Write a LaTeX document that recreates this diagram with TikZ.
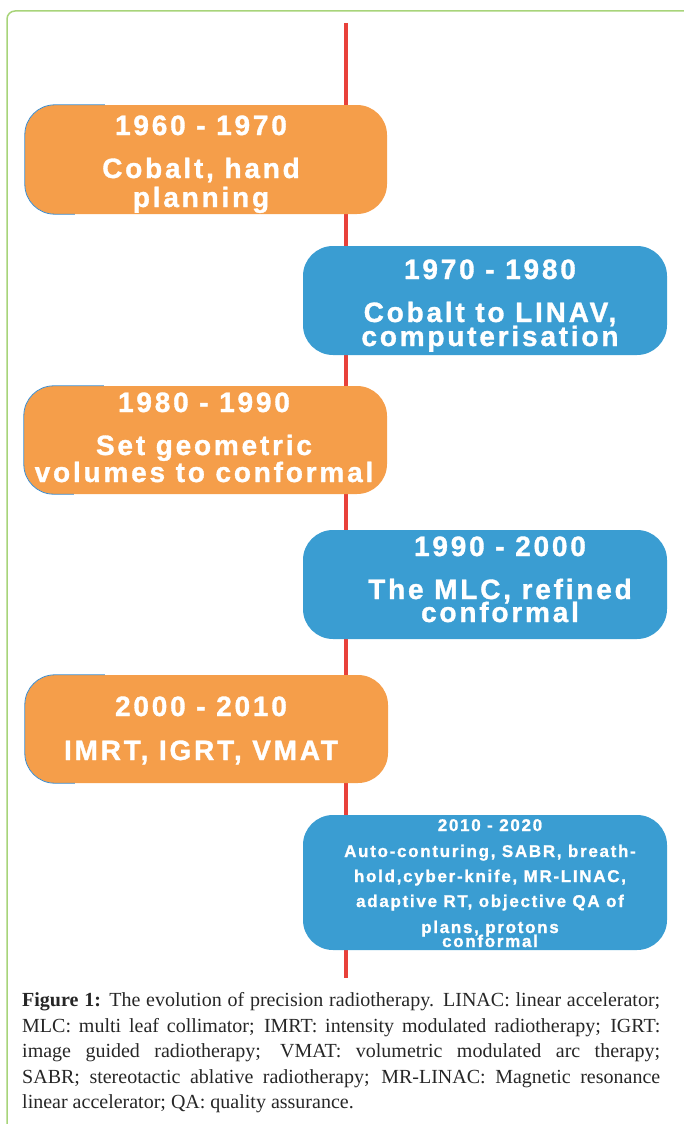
\documentclass[tikz,border=0pt]{standalone}
\usepackage{fontspec}
\setmainfont{Liberation Serif}
\newfontfamily\boxfont[LetterSpace=10,FakeBold=1.2]{Liberation Sans Bold}
\definecolor{orgfill}{HTML}{F59E4A}
\definecolor{blufill}{HTML}{3A9DD2}
\definecolor{redline}{HTML}{E8413A}
\definecolor{frame}{HTML}{A8D47A}
\definecolor{edgeblue}{HTML}{3A8ACB}
\tikzset{
  obox/.style={fill=orgfill, rounded corners=30pt, inner sep=0pt},
  bbox/.style={fill=blufill, rounded corners=30pt, inner sep=0pt},
  btxt/.style={text=white, font=\boxfont\fontsize{28}{30}\selectfont, anchor=base, inner sep=0pt},
  stxt/.style={text=white, font=\boxfont\fontsize{17}{19}\selectfont, anchor=base, inner sep=0pt},
  captxt/.style={text=black!85, font=\fontsize{20}{22}\selectfont, anchor=base west, inner sep=0pt},
  blueedge/.style={edgeblue, line width=0.8pt},
}
\newcommand{\capline}[1]{\makebox[638pt][s]{#1}}
\begin{document}
\begin{tikzpicture}[x=1pt,y=-1pt]
\useasboundingbox (0,0) rectangle (683,1124);
% frame
\draw[frame, line width=1.5pt, rounded corners=8pt] (7,1130) -- (7,11) -- (690,11);
% timeline
\coordinate (ltop) at (346,23);
\coordinate (lbot) at (346,978);
\draw[redline, line width=4pt] (ltop) -- (lbot);
% boxes
\node[obox, minimum width=362pt, minimum height=109pt] (b1) at (206,159.5) {};
\node[bbox, minimum width=364pt, minimum height=109pt] (b2) at (485,300.5) {};
\node[obox, minimum width=363pt, minimum height=108pt] (b3) at (205.5,440) {};
\node[bbox, minimum width=364pt, minimum height=109pt] (b4) at (485,584.5) {};
\node[obox, minimum width=363pt, minimum height=108pt] (b5) at (206.5,729) {};
\node[bbox, minimum width=364pt, minimum height=135pt] (b6) at (485,882.5) {};
% thin blue edge on the left of the orange boxes
\foreach \b in {b1,b3,b5}{
  \draw[blueedge] ([xshift=80pt]\b.north west) -- ([xshift=30pt]\b.north west)
    .. controls ([xshift=13.4pt]\b.north west) and ([yshift=-13.4pt]\b.north west) .. ([yshift=-30pt]\b.north west)
    -- ([yshift=30pt]\b.south west)
    .. controls ([yshift=13.4pt]\b.south west) and ([xshift=13.4pt]\b.south west) .. ([xshift=30pt]\b.south west)
    -- ([xshift=50pt]\b.south west);
}
% texts
\node[btxt] (t1a) at (201,135) {1960 - 1970};
\node[btxt] (t1b) at (201,178) {Cobalt, hand};
\node[btxt] (t1c) at (201,207) {planning};
\node[btxt] (t2a) at (490,279) {1970 - 1980};
\node[btxt] (t2b) at (490,322) {Cobalt to LINAV,};
\node[btxt] (t2c) at (490,346) {computerisation};
\node[btxt] (t3a) at (204,412) {1980 - 1990};
\node[btxt] (t3b) at (204,455) {Set geometric};
\node[btxt] (t3c) at (204,482) {volumes to conformal};
\node[btxt] (t4a) at (500,556) {1990 - 2000};
\node[btxt] (t4b) at (500,599) {The MLC, refined};
\node[btxt] (t4c) at (500,622) {conformal};
\node[btxt] (t5a) at (201,716) {2000 - 2010};
\node[btxt] (t5b) at (201,760) {IMRT, IGRT, VMAT};
\node[stxt] (t6a) at (490,831) {2010 - 2020};
\node[stxt] (t6b) at (490,857) {Auto-conturing, SABR, breath-};
\node[stxt] (t6c) at (490,882) {hold,cyber-knife, MR-LINAC,};
\node[stxt] (t6d) at (490,907) {adaptive RT, objective QA of};
\node[stxt] (t6e) at (490,933) {plans, protons};
\node[stxt] (t6f) at (490,947) {conformal};
% caption
\node[captxt] (c1) at (22,1006) {\capline{\textbf{Figure 1:} The evolution of precision radiotherapy. LINAC: linear accelerator;}};
\node[captxt] (c2) at (22,1032) {\capline{MLC: multi leaf collimator; IMRT: intensity modulated radiotherapy; IGRT:}};
\node[captxt] (c3) at (22,1057) {\capline{image guided radiotherapy; VMAT: volumetric modulated arc therapy;}};
\node[captxt] (c4) at (22,1083) {\capline{SABR; stereotactic ablative radiotherapy; MR-LINAC: Magnetic resonance}};
\node[captxt] (c5) at (22,1108) {linear accelerator; QA: quality assurance.};
\end{tikzpicture}
\end{document}
